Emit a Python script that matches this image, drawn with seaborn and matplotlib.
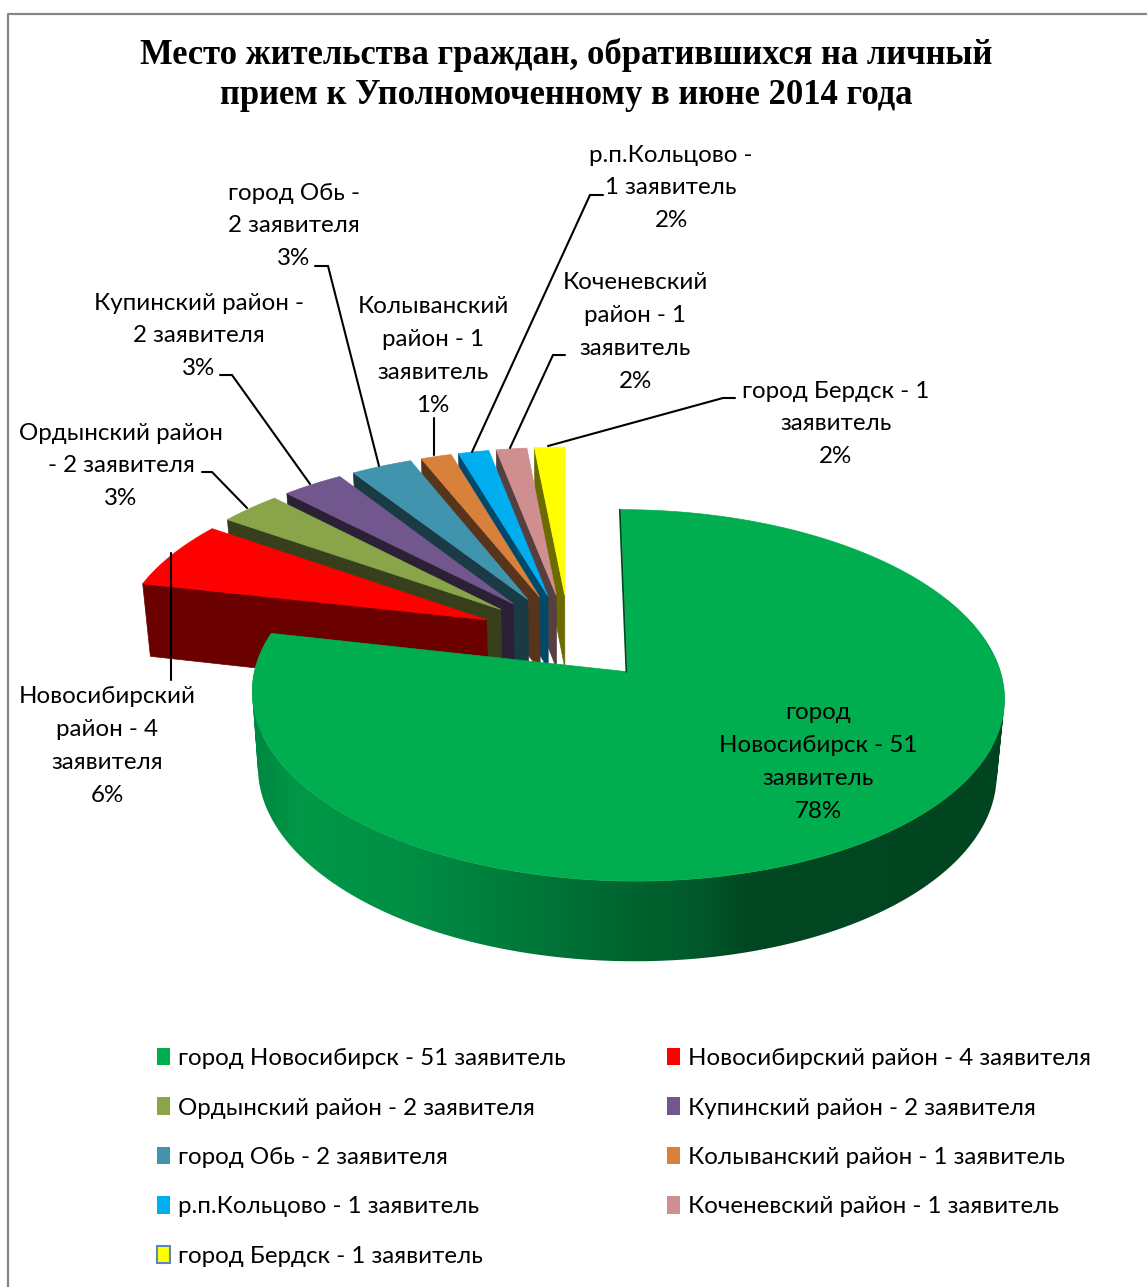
import numpy as np
import matplotlib
matplotlib.use('Agg')
import matplotlib.pyplot as plt
import seaborn as sns
from matplotlib.patches import Patch, PathPatch, Polygon
from matplotlib.path import Path

# chart data
districts = ['город Новосибирск', 'Новосибирский район', 'Ордынский район', 'Купинский район',
             'город Обь', 'Колыванский район', 'р.п.Кольцово', 'Коченевский район', 'город Бердск']
applicants = [51, 4, 2, 2, 2, 1, 1, 1, 1]
noun = ['заявитель', 'заявителя', 'заявителя', 'заявителя', 'заявителя',
        'заявитель', 'заявитель', 'заявитель', 'заявитель']
top_colors = ['#00ae4f', '#ff0000', '#8aa549', '#71578d', '#4194ae', '#d8813c', '#00aeef', '#cf8f8e', '#ffff00']
side_colors = ['#004a22', '#6a0000', '#383f1c', '#2b2036', '#1a3a46', '#58341a', '#00496a', '#573f3f', '#6b6b00']
title = 'Место жительства граждан, обратившихся на личный\nприем к Уполномоченному в июне 2014 года'
slice_labels = ['город\nНовосибирск - 51\nзаявитель\n78%',
                'Новосибирский\nрайон - 4\nзаявителя\n6%',
                'Ордынский район\n- 2 заявителя\n3%',
                'Купинский район -\n2 заявителя\n3%',
                'город Обь -\n2 заявителя\n3%',
                'Колыванский\nрайон - 1\nзаявитель\n1%',
                'р.п.Кольцово -\n1 заявитель\n2%',
                'Коченевский\nрайон - 1\nзаявитель\n2%',
                'город Бердск - 1\nзаявитель\n2%']
label_pos = [(818, 762), (107, 746), (121, 466), (199, 336), (294, 226),
             (433, 356), (671, 188), (635, 332), (836, 424)]
leaders = [None,
           [(171, 553), (171, 680)],
           [(202, 472), (212, 472), (247, 508)],
           [(220, 375), (232, 375), (310, 484)],
           [(315, 266), (328, 266), (379, 466)],
           [(434, 418), (434, 455)],
           [(603, 195), (590, 195), (472, 452)],
           [(565, 355), (553, 355), (510, 448)],
           [(735, 398), (723, 398), (548, 446)]]

# pie geometry, in pixels of the figure
X0, Y0 = 569, 637
RX, RY = 364, 174
PERSP = 0.124
DEPTH = 74
NARROW = 0.018  # the bottom ring is a bit narrower than the top one
EXPLODE = 0.25
SMALL_R = 1.012

wall_x = [250, 300, 400, 500, 600, 700, 745, 1005]
wall_rgb = [(0, 0.52, 0.25), (0, 0.60, 0.28), (0, 0.56, 0.27), (0, 0.49, 0.235),
            (0, 0.415, 0.195), (0, 0.345, 0.165), (0, 0.28, 0.13), (0, 0.27, 0.125)]


def project(u, v, z=0.0):
    s = 1 / (1 + PERSP * v)
    return X0 + RX * u * s * (1 - NARROW * z), Y0 - RY * v * s + DEPTH * z * np.sqrt(s)


def outer(a, c, z=0.0, r=1.0):
    return project(c[0] + r * np.sin(a), c[1] + r * np.cos(a), z)


def top_face(a0, a1, c, r=1.0):
    pts = [project(c[0], c[1])]
    for a in np.linspace(a0, a1, 160):
        pts.append(outer(a, c, 0.0, r))
    return pts


def ccw(quad):
    x, y = np.array(quad).T
    area = np.sum(x * np.roll(y, -1) - np.roll(x, -1) * y)
    return quad if area > 0 else quad[::-1]


sns.set_theme(style='white')
plt.rcParams['font.family'] = ['Lato', 'Noto Sans', 'DejaVu Sans']
palette = sns.color_palette(top_colors)
sides = sns.color_palette(side_colors)

fig = plt.figure(figsize=(11.47, 12.87), dpi=100)
ax = fig.add_axes([0, 0, 1, 1])

# frame of the original chart, only top and left are visible
ax.plot([8, 8, 1147], [1287, 14, 14], color='#868686', lw=1.6, zorder=1)

edges = np.cumsum([0] + applicants) / sum(applicants) * 2 * np.pi

# small slices go from the back to the front, the big one comes last
for i in range(len(applicants) - 1, 0, -1):
    a0, a1 = edges[i], edges[i + 1]
    mid = (a0 + a1) / 2
    c = (EXPLODE * np.sin(mid), EXPLODE * np.cos(mid))
    face = [project(c[0], c[1]), outer(a0, c, 0, SMALL_R), outer(a0, c, 1, SMALL_R), project(c[0], c[1], 1)]
    ax.add_patch(Polygon(face, closed=True, fc=sides[i], ec=sides[i], lw=0.5, zorder=2))
    ax.add_patch(Polygon(top_face(a0, a1, c, SMALL_R), closed=True, fc=palette[i], ec=palette[i], lw=0.5, zorder=2))

# big slice: shaded wall is a gradient image clipped to the wall outline
a0, a1 = edges[0], edges[1]
mid = (a0 + a1) / 2
c = (EXPLODE * np.sin(mid), EXPLODE * np.cos(mid))
grid = np.linspace(a0, a1, 400)
quads = []
for p, q in zip(grid[:-1], grid[1:]):
    quad = [outer(p, c), outer(q, c), outer(q, c, 1), outer(p, c, 1)]
    quads.append(Path(ccw(quad) + [quad[0]], closed=True))
wall = PathPatch(Path.make_compound_path(*quads), transform=ax.transData, fc='none', ec='none')
ax.add_patch(wall)
xs = np.arange(240, 1020)
shade = np.stack([np.interp(xs, wall_x, [w[k] for w in wall_rgb]) for k in range(3)], axis=1)
img = ax.imshow(shade[None, :, :], extent=(240, 1020, 1000, 600), aspect='auto', zorder=3)
img.set_clip_path(wall)
ax.add_patch(Polygon(top_face(a0, a1, c), closed=True, fc=palette[0], ec=palette[0], lw=0.5, zorder=3))
edge = [project(c[0], c[1]), outer(a0, c)]
ax.plot([edge[0][0] - 1, edge[1][0] - 1], [edge[0][1], edge[1][1]], color=sides[0], lw=1.3, zorder=3)

ax.set_xlim(0, 1147)
ax.set_ylim(1287, 0)
ax.axis('off')

# labels and leader lines
for text, pos, line in zip(slice_labels, label_pos, leaders):
    ax.text(pos[0], pos[1], text, ha='center', va='center', fontsize=17.4, linespacing=1.69, color='black', zorder=5)
    if line:
        ax.plot(*zip(*line), color='black', lw=1.5, zorder=4, solid_joinstyle='miter')

ax.text(566, 75, title, ha='center', va='center', family='Liberation Serif', fontweight='bold',
        fontsize=24.9, linespacing=1.27, color='black')

handles = []
for i, name in enumerate(districts):
    ec = '#5b87c0' if i == 8 else palette[i]
    handles.append(Patch(fc=palette[i], ec=ec, lw=1.5 if i == 8 else 0,
                         label=f'{name} - {applicants[i]} {noun[i]}'))
leg = ax.legend(handles=handles[0::2] + handles[1::2], ncol=2, loc='upper left', frameon=False,
                bbox_to_anchor=(157, 1048), bbox_transform=ax.transData, fontsize=17.4, labelcolor='black',
                handlelength=0.54, handleheight=0.72, handletextpad=0.33, labelspacing=1.175,
                columnspacing=4.17, borderpad=0, borderaxespad=0)

fig.savefig('out.png', dpi=100)
